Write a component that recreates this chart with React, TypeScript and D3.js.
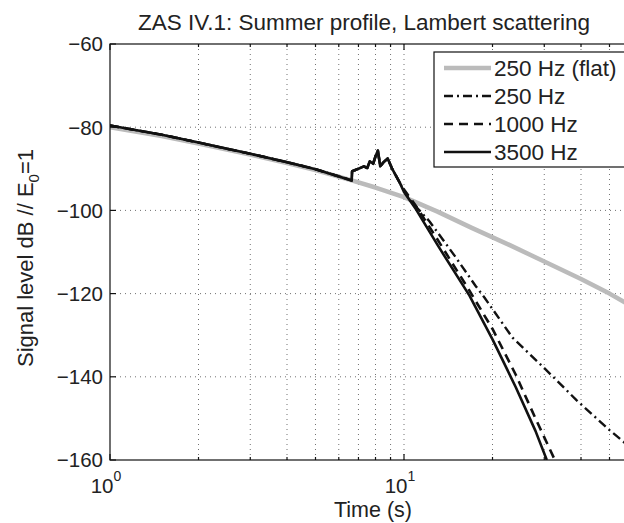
import React from 'react'
import * as d3 from 'd3'

// gray reference curve, 250 Hz over a flat bottom
const flatTime = [1, 1.5, 2, 3, 4, 5, 6.64, 8, 10, 13, 17, 23, 30, 40, 50, 60]
const flatLevel = [-80, -82.1, -83.9, -86.6, -88.6, -90.3, -92.8, -94.5, -96.8, -100.3, -104.2, -108.4, -112.3, -116.5, -120, -123.2]

// shared part of the three summer-profile curves
const earlyTime = [1, 1.5, 2, 3, 4, 5, 6.64]
const earlyLevel = [-79.6, -81.8, -83.7, -86.4, -88.4, -90.1, -92.8]
const peakTime = [6.66, 7, 7.3, 7.5, 7.65, 7.85, 8, 8.15, 8.3, 8.5, 8.8, 9.1, 9.7]
const peakLevel = [-90.6, -90, -89.4, -89.8, -88.2, -88.8, -87, -85.6, -89.4, -88.5, -87.5, -89.9, -93.5]

// tails after the peak
const tail250Time = [10, 10.5, 12.2, 14.9, 17.5, 18.8, 23.4, 30.6, 38.6, 50, 60]
const tail250Level = [-95.2, -97.6, -102.6, -111, -118.1, -121, -130.6, -138.5, -145.6, -152.8, -157.5]
const tail1000Time = [10, 11, 13, 16.7, 20, 24, 28, 32.6]
const tail1000Level = [-95, -99, -107, -119.3, -128.5, -139.5, -150, -160]
const tail3500Time = [10, 11, 13, 16.7, 20, 24, 28, 30.6]
const tail3500Level = [-95.6, -99.8, -108.3, -120.5, -131, -142.5, -153, -160]

const yTicks = [-60, -80, -100, -120, -140, -160]
const xMajor = [1, 10]
const xMinor = [2, 3, 4, 5, 6, 7, 8, 9, 20, 30, 40, 50]
const legendLabels = ['250 Hz (flat)', '250 Hz', '1000 Hz', '3500 Hz']

const font = 'Liberation Sans, Arial, Helvetica, sans-serif'

function joinPts(...parts: [number[], number[]][]) {
  const out: [number, number][] = []
  parts.forEach(([t, v]) => t.forEach((d, i) => out.push([d, v[i]])))
  return out
}

export default function App() {
  const width = 624
  const height = 523
  const left = 110
  const top = 44
  const bottom = 460

  const x = d3.scaleLog().domain([1, 60]).range([left, left + 294 * Math.log10(60)])
  const y = d3.scaleLinear().domain([-160, -60]).range([bottom, top])
  const right = x(60)

  const line = d3.line<[number, number]>().x(d => x(d[0])).y(d => y(d[1]))

  const series = [
    { pts: joinPts([flatTime, flatLevel]), stroke: '#bbbbbb', w: 4.5, dash: undefined },
    { pts: joinPts([earlyTime, earlyLevel], [peakTime, peakLevel], [tail250Time, tail250Level]), stroke: '#111', w: 2.4, dash: '9 4 2 4' },
    { pts: joinPts([earlyTime, earlyLevel], [peakTime, peakLevel], [tail1000Time, tail1000Level]), stroke: '#111', w: 2.6, dash: '9 6' },
    { pts: joinPts([earlyTime, earlyLevel], [peakTime, peakLevel], [tail3500Time, tail3500Level]), stroke: '#111', w: 2.6, dash: undefined },
  ]

  const legendX = 434
  const legendTop = 52
  const rowH = 28

  return (
    <svg width={width} height={height} style={{ position: 'absolute', left: 0, top: 0 }} fontFamily={font}>
      <rect width={width} height={height} fill="#fff" />
      <defs>
        <clipPath id="plot">
          <rect x={left} y={top} width={right - left} height={bottom - top} />
        </clipPath>
      </defs>
      {/* grid */}
      <g stroke="#333" strokeWidth={0.7} strokeDasharray="1 4">
        {[...xMinor, 10].map(t => (
          <line key={'gx' + t} x1={x(t)} x2={x(t)} y1={top} y2={bottom} />
        ))}
        {yTicks.slice(1, -1).map(v => (
          <line key={'gy' + v} x1={left} x2={right} y1={y(v)} y2={y(v)} />
        ))}
      </g>
      {/* curves */}
      <g clipPath="url(#plot)" fill="none" strokeLinejoin="round">
        {series.map((s, i) => (
          <path key={i} d={line(s.pts) || ''} stroke={s.stroke} strokeWidth={s.w} strokeDasharray={s.dash} />
        ))}
      </g>
      {/* axes box and ticks */}
      <g stroke="#111" strokeWidth={1.2} fill="none">
        <rect x={left} y={top} width={right - left} height={bottom - top} />
        {yTicks.map(v => (
          <line key={'ty' + v} x1={left} x2={left + 6} y1={y(v)} y2={y(v)} />
        ))}
        {xMajor.map(t => (
          <g key={'tx' + t}>
            <line x1={x(t)} x2={x(t)} y1={bottom} y2={bottom - 6} />
            <line x1={x(t)} x2={x(t)} y1={top} y2={top + 6} />
          </g>
        ))}
        {xMinor.map(t => (
          <g key={'tm' + t}>
            <line x1={x(t)} x2={x(t)} y1={bottom} y2={bottom - 3} />
            <line x1={x(t)} x2={x(t)} y1={top} y2={top + 3} />
          </g>
        ))}
      </g>
      {/* tick labels */}
      <g fontSize={20.5} fill="#222">
        {yTicks.map(v => (
          <text key={'ly' + v} x={left - 7} y={y(v)} dy="0.36em" textAnchor="end">
            {'\u2212' + Math.abs(v)}
          </text>
        ))}
        {xMajor.map(t => (
          <text key={'lx' + t} x={x(t) - 4} y={bottom + 33} textAnchor="middle">
            10<tspan fontSize={14} dy={-12}>{Math.round(Math.log10(t))}</tspan>
          </text>
        ))}
      </g>
      <text x={373} y={517} textAnchor="middle" fontSize={21.5} fill="#222">Time (s)</text>
      <text transform={`translate(33,${(top + bottom) / 2 + 6}) rotate(-90)`} textAnchor="middle" fontSize={22} fill="#222">
        Signal level dB // E<tspan fontSize={15} dy={6}>0</tspan><tspan dy={-6}>=1</tspan>
      </text>
      <text x={364} y={30} textAnchor="middle" fontSize={22.5} fill="#222">ZAS IV.1: Summer profile, Lambert scattering</text>
      {/* legend */}
      <g>
        <rect x={legendX} y={legendTop} width={right - 6 - legendX} height={115} fill="#fff" stroke="#111" strokeWidth={1.2} />
        {legendLabels.map((lab, i) => {
          const cy = legendTop + 16 + i * rowH
          const s = series[i]
          return (
            <g key={lab}>
              <line x1={legendX + 10} x2={legendX + 57} y1={cy} y2={cy} stroke={s.stroke} strokeWidth={s.w} strokeDasharray={s.dash} />
              <text x={legendX + 60} y={cy} dy="0.36em" fontSize={22.5} fill="#222">{lab}</text>
            </g>
          )
        })}
      </g>
    </svg>
  )
}
